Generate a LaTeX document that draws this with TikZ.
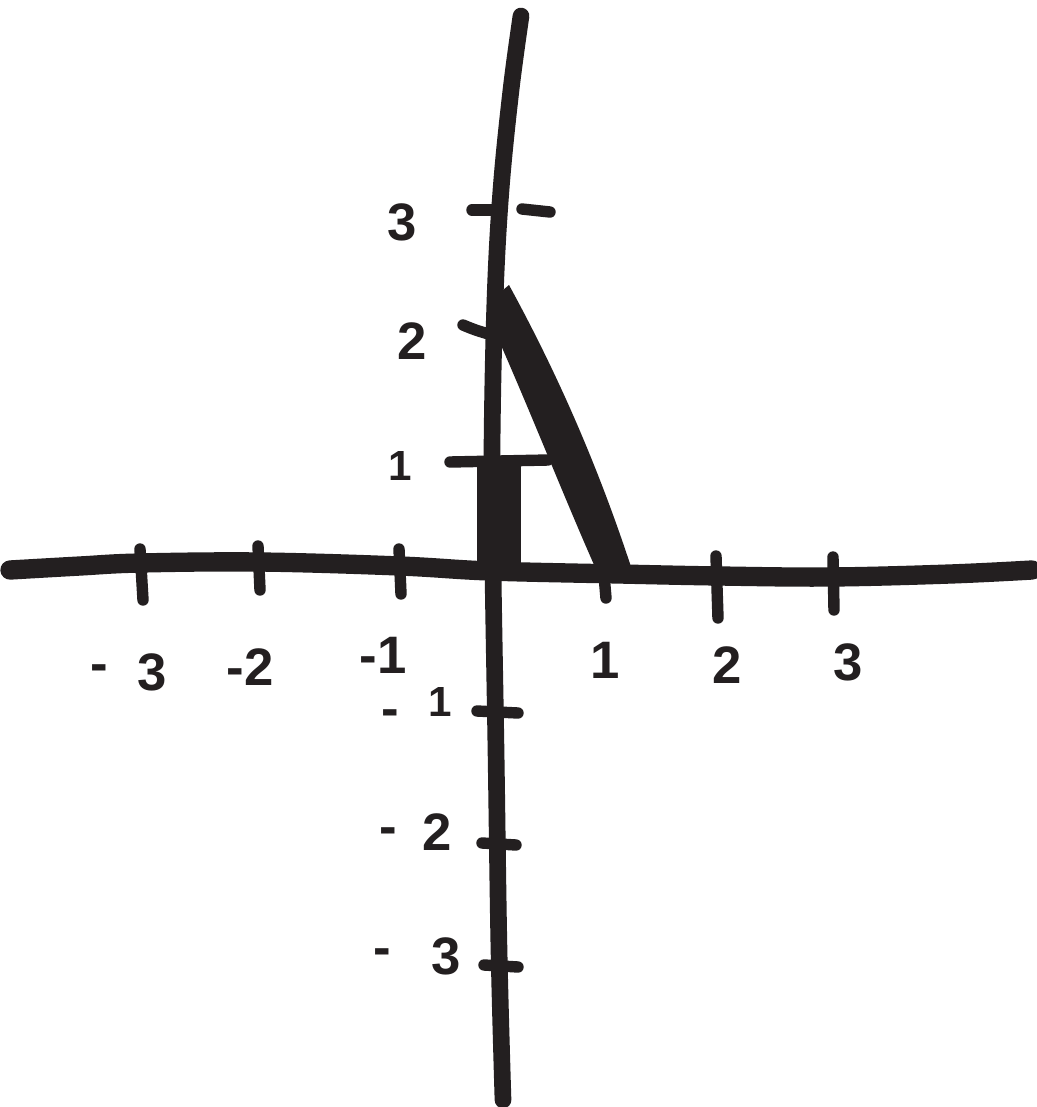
\documentclass[tikz,border=0pt]{standalone}
\usepackage{fontspec}
\setmainfont{Liberation Sans}
\definecolor{ink}{HTML}{231F20}
\begin{document}
\begin{tikzpicture}[x=0.02cm,y=-0.02cm,
  axis/.style={draw=ink,line width=11pt,line cap=round,line join=round},
  tick/.style={draw=ink,line width=6.5pt,line cap=round},
  lab/.style={text=ink,font=\fontsize{30}{32}\selectfont\bfseries,inner sep=0pt},
  smalllab/.style={text=ink,font=\fontsize{24}{26}\selectfont\bfseries,inner sep=0pt}]
\useasboundingbox[fill=white] (0,0) rectangle (1036,1107);
% axes
\draw[axis] plot[smooth,tension=0.6] coordinates {(10,570) (80,566) (140,563) (260,562) (400,566) (490,571) (620,574) (720,576) (830,577) (950,574) (1032,570)};
\draw[axis,line width=9.5pt] plot[smooth,tension=0.6] coordinates {(521,16) (511,90) (501,190) (495,300) (492,450) (493,570) (496,750) (499,950) (503,1100)};
% x ticks
\draw[tick] (140,549) -- (143,600);
\draw[tick] (258,546) -- (260,590);
\draw[tick] (399,549) -- (401,594);
\draw[tick] (604,575) -- (606,598);
\draw[tick] (716,556) -- (718,618);
\draw[tick] (833,557) -- (834,610);
% y ticks
\draw[tick] (472,210) -- (492,210);
\draw[tick] (522,209) -- (550,212);
\draw[tick] (463,325) .. controls (475,330) .. (492,335);
\draw[tick] (450,462) -- (548,460);
\draw[tick] (477,711) -- (518,713);
\draw[tick] (482,843) -- (516,845);
\draw[tick] (484,965) -- (518,967);
% filled bar
\fill[ink] (477,458) rectangle (521,574);
% slanted bar
\fill[ink] (491,300) -- (509,285) .. controls (550,360) and (595,455) .. (634,576) -- (599,576) .. controls (565,500) and (528,405) .. (492,325) -- cycle;
% x labels
\node[lab] (xm3d) at (99,673) {-};
\node[lab] (xm3) at (152,672) {3};
\node[lab] (xm2) at (250,667) {-2};
\node[lab] (xm1) at (383,655) {-1};
\node[lab] (xp1) at (605,660) {1};
\node[lab] (xp2) at (727,665) {2};
\node[lab] (xp3) at (848,662) {3};
% y labels
\node[lab] (yp3) at (402,222) {3};
\node[lab] (yp2) at (412,341) {2};
\node[smalllab] (yp1) at (400,466) {1};
\node[lab] (ym1d) at (390,718) {-};
\node[smalllab] (ym1) at (440,702) {1};
\node[lab] (ym2d) at (388,836) {-};
\node[lab] (ym2) at (437,832) {2};
\node[lab] (ym3d) at (382,957) {-};
\node[lab] (ym3) at (446,956) {3};
\end{tikzpicture}
\end{document}
